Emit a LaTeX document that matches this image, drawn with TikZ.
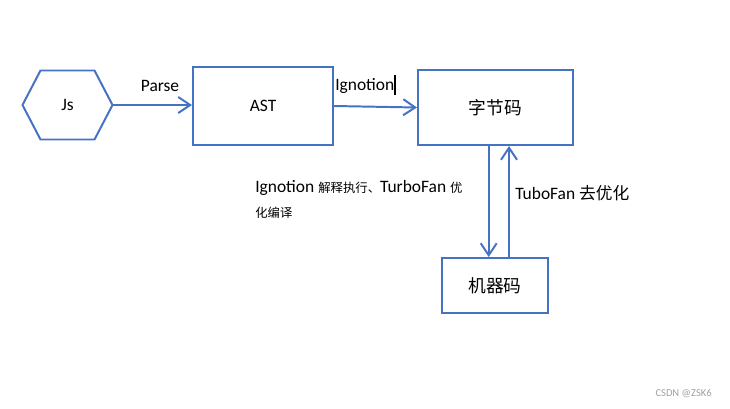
\documentclass[tikz,border=0pt]{standalone}
\usepackage{fontspec}
\setmainfont{Carlito}
\newfontfamily\cjk{Noto Sans CJK SC}
\usetikzlibrary{arrows.meta}
\definecolor{boxblue}{RGB}{68,114,196}

\begin{document}
\begin{tikzpicture}[x=0.025cm, y=-0.025cm,
    block/.style={rectangle, draw=boxblue, line width=1.4pt, text centered, font=\cjk\fontsize{12.6}{14}\selectfont},
    hexa/.style={rectangle, minimum width=2.25cm, minimum height=1.725cm, inner sep=0pt, outer sep=0pt, font=\fontsize{12.4}{14}\selectfont},
    outline/.style={draw=boxblue, line width=1.4pt, line join=miter},
    label/.style={inner sep=0pt, font=\fontsize{12.4}{14}\selectfont},
    arrow/.style={draw=boxblue, line width=1.4pt, -{Straight Barb[length=3mm,width=4mm]}}
]
\useasboundingbox (0,0) rectangle (730,408);

% SOURCE AND TREE
\node[hexa] (js) at (67.5,105) {Js};
\draw[outline] (js.west) -- ([xshift=0.45cm]js.north west) -- ([xshift=-0.45cm]js.north east)
  -- (js.east) -- ([xshift=-0.45cm]js.south east) -- ([xshift=0.45cm]js.south west) -- cycle;
\node[block, minimum width=3.5cm, minimum height=1.95cm, font=\fontsize{12.4}{14}\selectfont] (ast) at (263,106) {AST};

% BYTECODE AND MACHINE CODE
\node[block, minimum width=3.875cm, minimum height=1.875cm] (bc) at (495.5,107.5) {字节码};
\node[block, minimum width=2.65cm, minimum height=1.375cm] (mc) at (495,285.5) {机器码};

% Horizontal arrows
\draw[arrow] (js.east) -- (ast.west |- js.east);
\draw[arrow] (ast.east) -- (bc.west);

% Vertical arrows between bytecode and machine code
\draw[arrow] ([xshift=-0.17cm]bc.south) -- ([xshift=-0.17cm]bc.south |- mc.north);
\draw[arrow] ([xshift=0.35cm]mc.north) -- ([xshift=0.35cm]mc.north |- bc.south);

% Labels on arrows
\node[label] (parse) at (160,86) {Parse};
\node[label, anchor=west] (ign) at (335,85) {Ignotion\rule[-0.28em]{0.9pt}{1.15em}};
\node[label, anchor=west] (deopt) at (515,193) {TuboFan {\cjk\fontsize{11.9}{14}\selectfont 去优化}};

% Notes
\node[label, anchor=north west, align=left, font=\fontsize{12.4}{17.8}\selectfont] (note) at (255,180)
  {Ignotion {\cjk\fontsize{8.8}{10}\selectfont 解释执行、}TurboFan {\cjk\fontsize{8.8}{10}\selectfont 优}\\
   {\cjk\fontsize{8.8}{10}\selectfont 化编译}};

\node[label, anchor=east, text=gray!75, font=\fontsize{7.5}{9}\selectfont] (mark) at (712,394) {CSDN @ZSK6};

\end{tikzpicture}
\end{document}
